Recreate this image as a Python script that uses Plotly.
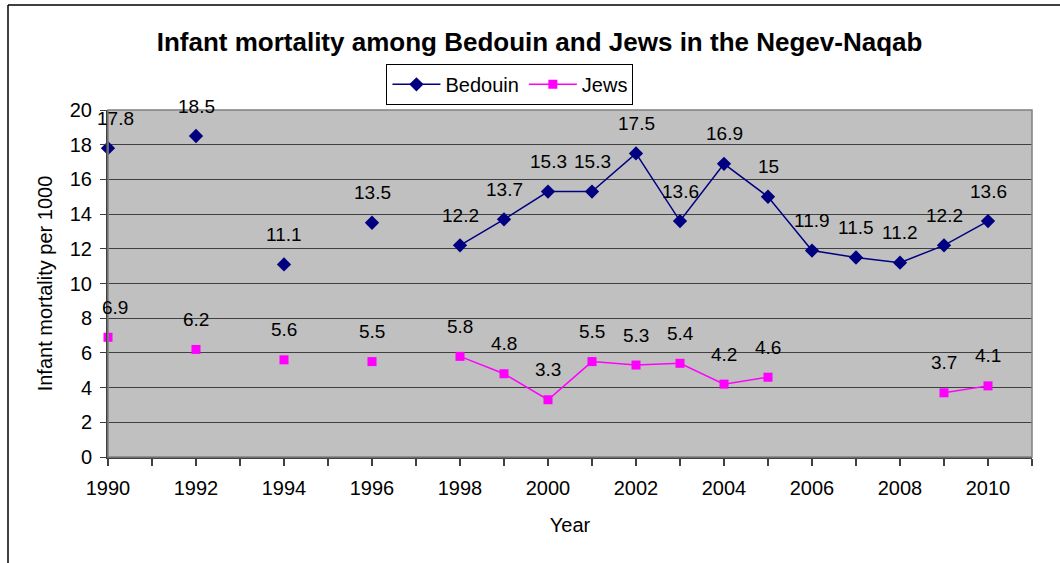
import plotly.graph_objects as go

years = list(range(1990, 2011))
bedouin = [17.8, None, 18.5, None, 11.1, None, 13.5, None, 12.2, 13.7, 15.3, 15.3,
           17.5, 13.6, 16.9, 15.0, 11.9, 11.5, 11.2, 12.2, 13.6]
jews = [6.9, None, 6.2, None, 5.6, None, 5.5, None, 5.8, 4.8, 3.3, 5.5,
        5.3, 5.4, 4.2, 4.6, None, None, None, 3.7, 4.1]
bedouin_labels = ["17.8", "", "18.5", "", "11.1", "", "13.5", "", "12.2", "13.7", "15.3", "15.3",
                  "17.5", "13.6", "16.9", "15", "11.9", "11.5", "11.2", "12.2", "13.6"]
jews_labels = ["6.9", "", "6.2", "", "5.6", "", "5.5", "", "5.8", "4.8", "3.3", "5.5",
               "5.3", "5.4", "4.2", "4.6", "", "", "", "3.7", "4.1"]
x_tick_vals = list(range(1990, 2011, 2))

FONT = "Liberation Sans, Arial, sans-serif"

fig = go.Figure()
fig.add_trace(go.Scatter(
    x=years, y=bedouin, name="Bedouin", mode="lines+markers",
    line=dict(color="#000080", width=1.5),
    marker=dict(symbol="diamond", size=11, color="#000080"),
    connectgaps=False, cliponaxis=False,
))
fig.add_trace(go.Scatter(
    x=years, y=jews, name="Jews", mode="lines+markers",
    line=dict(color="#FF00FF", width=1.5),
    marker=dict(symbol="square", size=9, color="#FF00FF"),
    connectgaps=False, cliponaxis=False,
))

annotations = []
for series, labels in ((bedouin, bedouin_labels), (jews, jews_labels)):
    for xv, yv, lab in zip(years, series, labels):
        if yv is None:
            continue
        annotations.append(dict(
            x=xv, y=yv, text=lab, showarrow=False, xref="x", yref="y",
            yanchor="middle", xanchor="center", yshift=30,
            xshift=7 if xv == 1990 else 0,
            font=dict(family=FONT, size=19, color="black"),
        ))
fig.update_layout(annotations=annotations)

fig.update_layout(
    width=1060, height=563,
    margin=dict(l=108, r=28, t=110, b=106),
    paper_bgcolor="white", plot_bgcolor="#C0C0C0",
    font=dict(family=FONT, size=20, color="black"),
    title=dict(text="<b>Infant mortality among Bedouin and Jews in the Negev-Naqab</b>",
               x=0.509, xanchor="center", y=0.925, yanchor="middle",
               font=dict(family=FONT, size=26, color="black")),
    showlegend=True,
    legend=dict(orientation="h", x=0.435, xanchor="center", y=1.015, yanchor="bottom",
                bordercolor="black", borderwidth=1, bgcolor="white",
                font=dict(family=FONT, size=20), itemwidth=48, tracegroupgap=0),
    xaxis=dict(range=[1990, 2011], tickmode="array", tickvals=x_tick_vals,
               ticktext=[str(v) for v in x_tick_vals],
               showgrid=False, zeroline=False, showline=True, linecolor="#404040", linewidth=2,
               ticks="outside", ticklen=7, tickcolor="#404040", tickwidth=1.5,
               tickfont=dict(size=20), ticklabelstandoff=5,
               title=dict(text="Year", font=dict(size=20), standoff=20),
               minor=dict(dtick=1, tick0=1990, ticks="outside", ticklen=7, tickcolor="#404040", tickwidth=1.5, showgrid=False),
               mirror=False),
    yaxis=dict(range=[0, 20], dtick=2, showgrid=True, gridcolor="#404040", gridwidth=1.2,
               zeroline=False, showline=True, linecolor="#404040", linewidth=2,
               ticks="outside", ticklen=6, tickcolor="#404040", tickfont=dict(size=20),
               ticklabelstandoff=4,
               title=dict(text="Infant mortality per 1000", font=dict(size=20), standoff=12)),
    shapes=[
        dict(type="rect", xref="paper", yref="paper", x0=0, x1=1, y0=0, y1=1,
             line=dict(color="#808080", width=1.5), fillcolor="rgba(0,0,0,0)", layer="above"),
        dict(type="line", xref="paper", yref="paper", x0=-100/924, x1=1.2, y0=(563-106-5)/347, y1=(563-106-5)/347,
             line=dict(color="black", width=1.5)),
        dict(type="line", xref="paper", yref="paper", x0=-100/924, x1=-100/924, y0=-1, y1=(563-106-5)/347,
             line=dict(color="black", width=1.5)),
    ],
)
fig.write_html("out.html")
